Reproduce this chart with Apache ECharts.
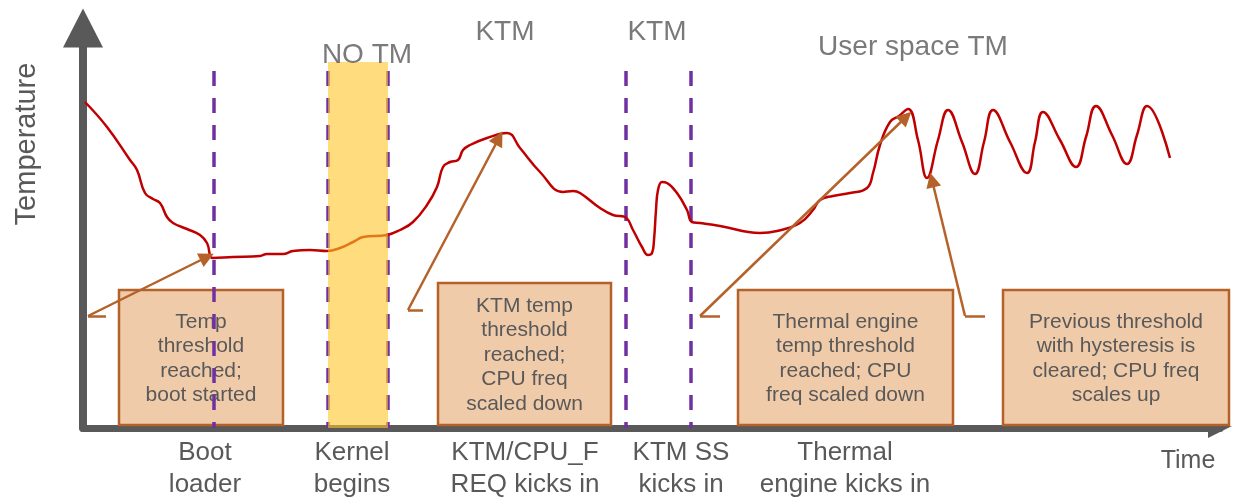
<!DOCTYPE html>
<html><head><meta charset="utf-8">
<script src="https://cdn.jsdelivr.net/npm/echarts@6/dist/echarts.min.js"></script>
<style>html,body{margin:0;padding:0;background:#fff}#c{width:1236px;height:502px}</style>
</head><body><div id="c"></div>
<script>
// Temperature curve (time units, temperature units)
const curveTime = [2,24,47,54,62,70,77,84,90,104,117,124,130,150,177,184,200,210,227,244,257,270,280,304,317,330,344,354,360,367,375,380,387,404,424,437,457,480,490,497,517,530,542,550,559,565,569,571,573,575,579,584,594,604,609,617,637,677,694,717,730,737,750,767,784,790,797,807,816,825,835,844,855,865,879,892,901,910,927,944,952,960,977,993,1003,1013,1029,1044,1054,1064,1087];
const curveTemp = [326,301,268,258,235,229,225,211,205,199,193,185,170,171,172,174,174,177,178,177,180,186,191,193,198,206,223,241,261,266,268,278,283,290,295,280,256,236,237,235,220,213,211,198,181,173,175,188,218,238,246,245,235,218,206,205,202,195,197,205,218,228,232,235,240,255,283,306,312,319,288,250,288,318,286,254,286,318,286,255,286,316,288,261,291,322,293,264,293,322,270];
// phase boundaries (dashed lines)
const phaseLines = [131, 245, 305, 543, 608];
const phaseLineTop = 357;
// "NO TM" band: start, end, top
const noTmBand = [245, 305, 366];
// phase labels under the time axis
const phaseNames = ['Boot\nloader', 'Kernel\nbegins', 'KTM/CPU_F\nREQ kicks in', 'KTM SS\nkicks in', 'Thermal\nengine kicks in'];
const phaseNameTime = [122, 269, 442, 598, 762];
// mode labels on top
const modeNames = ['NO TM', 'KTM', 'KTM', 'User space TM'];
const modeTime = [284, 422, 574, 830];
const modeTemp = [373, 396, 396, 381];
// note boxes
const noteTexts = ['Temp\nthreshold\nreached;\nboot started', 'KTM temp\nthreshold\nreached;\nCPU freq\nscaled down', 'Thermal engine\ntemp threshold\nreached; CPU\nfreq scaled down', 'Previous threshold\nwith hysteresis is\ncleared; CPU freq\nscales up'];
const noteStart = [36, 355, 655, 920];
const noteEnd = [200, 528, 870, 1146];
const noteBottom = [3, 3, 3, 3];
const noteTop = [138, 145, 138, 138];
// callout arrows: tail end, elbow, tip
const arrowTailTime = [23, 340, 637, 902];
const arrowTailTemp = [112, 118, 112, 112];
const arrowElbowTime = [5, 325, 617, 882];
const arrowElbowTemp = [112, 118, 112, 112];
const arrowTipTime = [124, 416, 823, 849];
const arrowTipTemp = [171, 290, 311, 248];

const FONT = '"Liberation Sans", Arial, sans-serif';
const GREY = '#595959';
const BROWN = '#B5622A';

const chart = echarts.init(document.getElementById('c'), null, {renderer: 'canvas'});
const labelMap = {};
phaseNameTime.forEach((t, i) => labelMap[t] = phaseNames[i]);

chart.setOption({
  animation: false,
  grid: {left: 83, right: 16, top: 28, bottom: 74},
  xAxis: {
    type: 'value', min: 0, max: 1137,
    splitLine: {show: false},
    axisTick: {show: false},
    axisLine: {show: true, lineStyle: {color: GREY, width: 7},
      symbol: ['none', 'path://M-2,0L-2,24L10,24ZM-10,24L-10,24'], symbolSize: [20, 24]},
    axisLabel: {
      show: true, customValues: phaseNameTime, hideOverlap: false,
      formatter: v => labelMap[v] || '',
      color: GREY, fontFamily: FONT, fontSize: 26, lineHeight: 32, margin: 9
    },
    name: 'Time', nameLocation: 'end', nameGap: -32,
    nameTextStyle: {color: GREY, fontFamily: FONT, fontSize: 25, align: 'center', verticalAlign: 'top', padding: [21, 0, 0, 0]}
  },
  yAxis: {
    type: 'value', min: 0, max: 400,
    splitLine: {show: false},
    axisTick: {show: false},
    axisLabel: {show: false},
    axisLine: {show: true, lineStyle: {color: GREY, width: 8}, symbol: ['none', 'triangle'], symbolSize: [40, 39]}
  },
  graphic: [{
    type: 'text', x: 27, y: 144, rotation: Math.PI / 2,
    style: {text: 'Temperature', fill: GREY, font: '29px ' + FONT, align: 'center', verticalAlign: 'middle'}
  }],
  series: [
    {
      type: 'custom', z: 3, silent: true,
      data: noteStart.map((s, i) => [s, noteBottom[i], noteEnd[i], noteTop[i]]),
      renderItem: (params, api) => {
        const i = params.dataIndex;
        const p0 = api.coord([api.value(0), api.value(3)]);
        const p1 = api.coord([api.value(2), api.value(1)]);
        return {type: 'group', children: [
          {type: 'rect', shape: {x: p0[0], y: p0[1], width: p1[0] - p0[0], height: p1[1] - p0[1]},
           style: {fill: '#F0CBA9', stroke: BROWN, lineWidth: 2.5}},
          {type: 'text', x: (p0[0] + p1[0]) / 2, y: (p0[1] + p1[1]) / 2 + 1,
           style: {text: noteTexts[i], fill: GREY, font: '21px ' + FONT, align: 'center', verticalAlign: 'middle', lineHeight: 24.5}}
        ]};
      }
    },
    {
      type: 'line', z: 4, silent: true,
      data: curveTime.map((t, i) => [t, curveTemp[i]]),
      smooth: 0.45, showSymbol: false, symbol: 'none',
      lineStyle: {color: '#C00000', width: 2.5}
    },
    {
      type: 'lines', coordinateSystem: 'cartesian2d', z: 4, silent: true,
      data: phaseLines.map(t => ({coords: [[t, phaseLineTop], [t, 0]]})),
      symbol: ['none', 'none'],
      lineStyle: {color: '#7030A0', width: 3.5, type: [15, 12], opacity: 1, curveness: 0}
    },
    {
      type: 'custom', z: 5, silent: true,
      data: [noTmBand],
      renderItem: (params, api) => {
        const p0 = api.coord([api.value(0), api.value(2)]);
        const p1 = api.coord([api.value(1), 0]);
        return {type: 'rect', shape: {x: p0[0], y: p0[1], width: p1[0] - p0[0], height: p1[1] - p0[1]},
                style: {fill: 'rgba(255,198,40,0.6)'}};
      }
    },
    {
      type: 'lines', coordinateSystem: 'cartesian2d', z: 6, silent: true,
      data: arrowTailTime.map((t, i) => ({coords: [[t, arrowTailTemp[i]], [arrowElbowTime[i], arrowElbowTemp[i]]]})),
      symbol: ['none', 'none'],
      lineStyle: {color: BROWN, width: 2.5, opacity: 1, curveness: 0}
    },
    {
      type: 'lines', coordinateSystem: 'cartesian2d', z: 6, silent: true,
      data: arrowElbowTime.map((t, i) => ({coords: [[t, arrowElbowTemp[i]], [arrowTipTime[i], arrowTipTemp[i]]]})),
      symbol: ['none', 'triangle'], symbolSize: [13, 15],
      lineStyle: {color: BROWN, width: 2.5, opacity: 1, curveness: 0}
    },
    {
      type: 'scatter', z: 7, silent: true,
      data: modeTime.map((t, i) => [t, modeTemp[i], modeNames[i]]),
      symbolSize: 0,
      label: {show: true, position: 'inside', formatter: p => p.data[2], color: GREY, fontFamily: FONT, fontSize: 28}
    }
  ]
});
</script>
</body></html>
